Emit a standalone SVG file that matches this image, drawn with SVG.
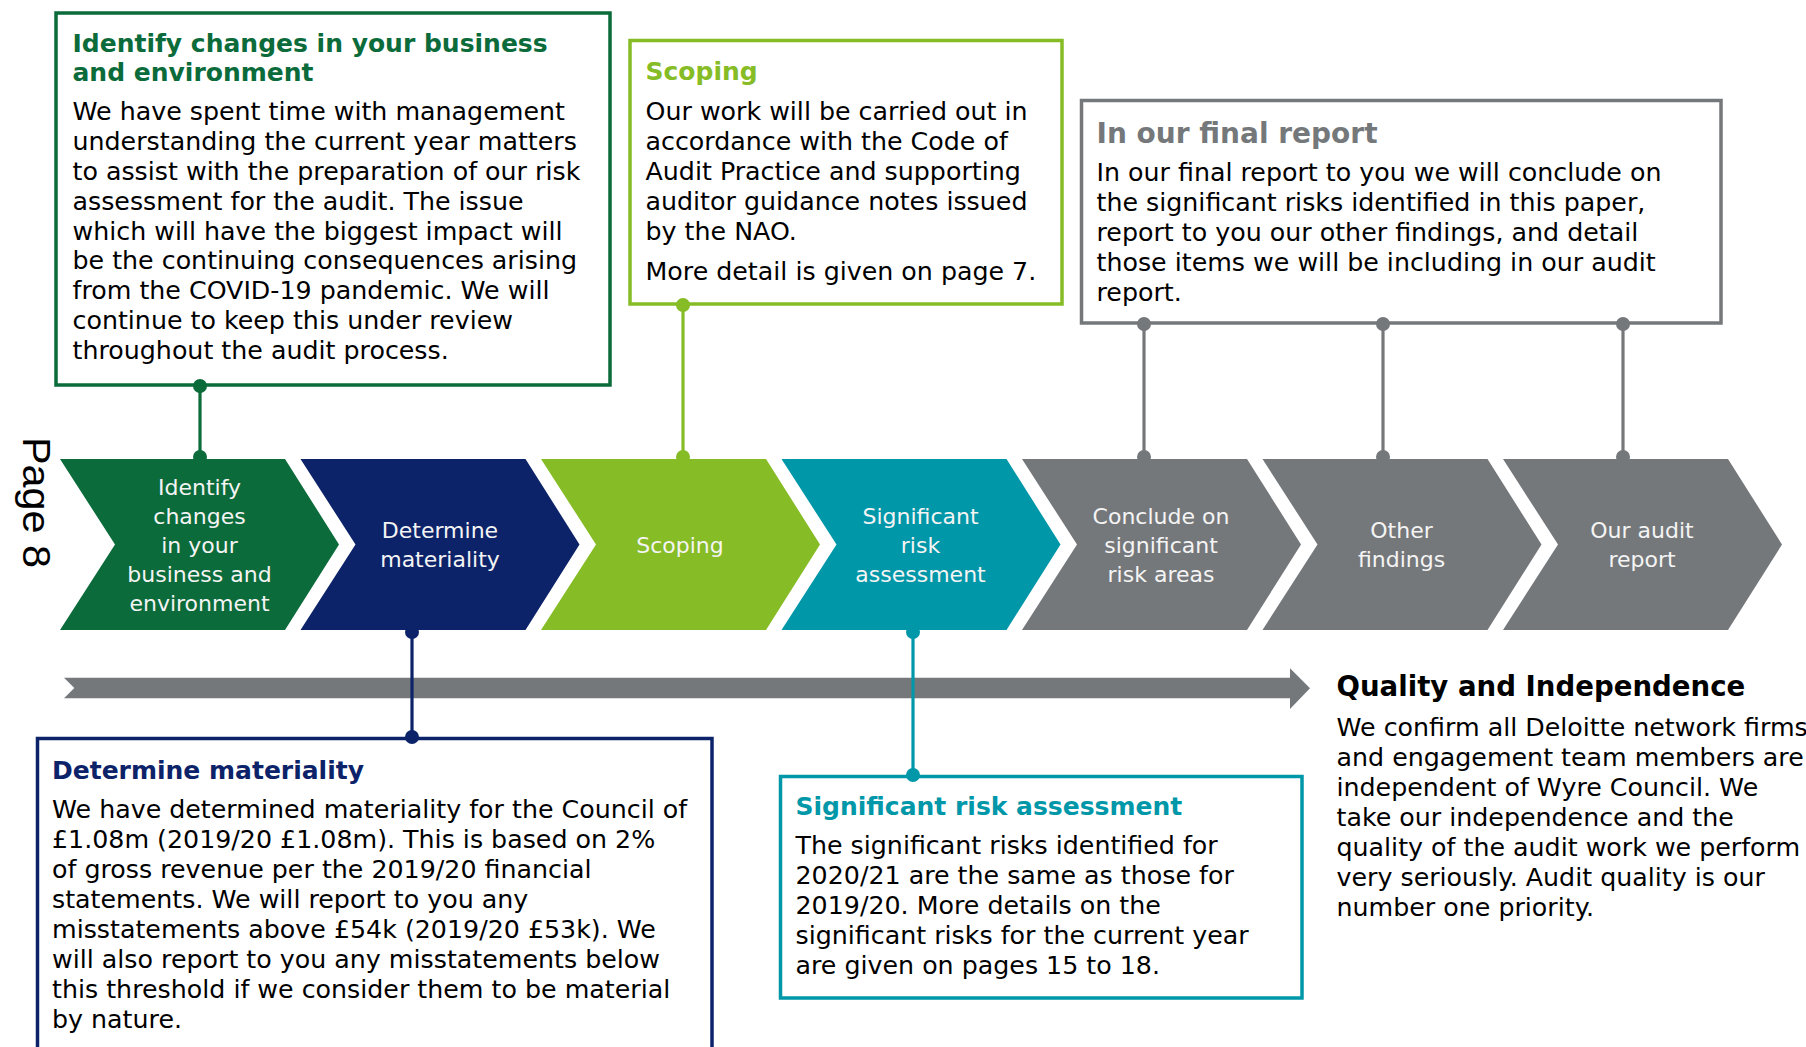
<svg xmlns="http://www.w3.org/2000/svg" width="1806" height="1047" viewBox="0 0 1806 1047">
  <style>
    text { font-family: "DejaVu Sans", Verdana, sans-serif; }
    .body { font-size: 25.3px; fill: #000000; }
    .title { font-size: 25px; font-weight: bold; }
    .step { font-size: 22px; fill: #F4F4F4; text-anchor: middle; }
    .box { fill: #FFFFFF; stroke-width: 3.5; }
    .link { stroke-width: 3.2; fill: none; }
    .c-green { stroke: #0B6B3A; }
    .c-navy { stroke: #0C2369; }
    .c-lime { stroke: #86BC25; }
    .c-teal { stroke: #0097A9; }
    .c-grey { stroke: #75787B; }
    .f-green { fill: #0B6B3A; }
    .f-navy { fill: #0C2369; }
    .f-lime { fill: #86BC25; }
    .f-teal { fill: #0097A9; }
    .f-grey { fill: #75787B; }
  </style>
  <defs>
    <polygon id="chev" points="0,459 225,459 279,544.5 225,630 0,630 55,544.5"/>
  </defs>

  <rect width="1806" height="1047" fill="#FFFFFF"/>

  <!-- page number, rotated -->
  <text transform="translate(23,437) rotate(90)" font-size="38" textLength="131" lengthAdjust="spacingAndGlyphs" style="font-family:'Liberation Sans', Arial, sans-serif">Page 8</text>

  <!-- timeline arrow -->
  <polygon class="f-grey" points="64,677.7 1290,677.7 1290,668.3 1310,688.3 1290,709 1290,698.3 64,698.3 74.3,688"/>

  <!-- process steps -->
  <g id="step-identify">
    <use href="#chev" x="60" class="f-green"/>
    <text class="step" x="199.5" y="494.5">Identify</text>
    <text class="step" x="199.5" y="523.5">changes</text>
    <text class="step" x="199.5" y="552.5">in your</text>
    <text class="step" x="199.5" y="581.5">business and</text>
    <text class="step" x="199.5" y="610.5">environment</text>
  </g>
  <g id="step-materiality">
    <use href="#chev" x="300.5" class="f-navy"/>
    <text class="step" x="440" y="538">Determine</text>
    <text class="step" x="440" y="567">materiality</text>
  </g>
  <g id="step-scoping">
    <use href="#chev" x="541" class="f-lime"/>
    <text class="step" x="680" y="552.5">Scoping</text>
  </g>
  <g id="step-risk">
    <use href="#chev" x="781.5" class="f-teal"/>
    <text class="step" x="920.5" y="523.5">Significant</text>
    <text class="step" x="920.5" y="552.5">risk</text>
    <text class="step" x="920.5" y="581.5">assessment</text>
  </g>
  <g id="step-conclude">
    <use href="#chev" x="1022" class="f-grey"/>
    <text class="step" x="1161" y="523.5">Conclude on</text>
    <text class="step" x="1161" y="552.5">significant</text>
    <text class="step" x="1161" y="581.5">risk areas</text>
  </g>
  <g id="step-findings">
    <use href="#chev" x="1262.5" class="f-grey"/>
    <text class="step" x="1401.5" y="538">Other</text>
    <text class="step" x="1401.5" y="567">findings</text>
  </g>
  <g id="step-report">
    <use href="#chev" x="1503" class="f-grey"/>
    <text class="step" x="1642" y="538">Our audit</text>
    <text class="step" x="1642" y="567">report</text>
  </g>

  <!-- description panels -->
  <g id="panel-identify">
    <rect class="box c-green" x="56" y="13" width="554" height="372"/>
    <text class="title f-green" x="72.5" y="52">Identify changes in your business</text>
    <text class="title f-green" x="72.5" y="81">and environment</text>
    <text class="body" x="72.5" y="119.5">We have spent time with management</text>
    <text class="body" x="72.5" y="149.5">understanding the current year matters</text>
    <text class="body" x="72.5" y="179.5">to assist with the preparation of our risk</text>
    <text class="body" x="72.5" y="209.5">assessment for the audit. The issue</text>
    <text class="body" x="72.5" y="239.5">which will have the biggest impact will</text>
    <text class="body" x="72.5" y="269">be the continuing consequences arising</text>
    <text class="body" x="72.5" y="299">from the COVID-19 pandemic. We will</text>
    <text class="body" x="72.5" y="329">continue to keep this under review</text>
    <text class="body" x="72.5" y="359">throughout the audit process.</text>
  </g>

  <g id="panel-scoping">
    <rect class="box c-lime" x="630" y="40.5" width="432" height="263.5"/>
    <text class="title f-lime" x="645.5" y="80">Scoping</text>
    <text class="body" x="645.5" y="119.8">Our work will be carried out in</text>
    <text class="body" x="645.5" y="149.8">accordance with the Code of</text>
    <text class="body" x="645.5" y="179.8">Audit Practice and supporting</text>
    <text class="body" x="645.5" y="209.8">auditor guidance notes issued</text>
    <text class="body" x="645.5" y="239.8">by the NAO.</text>
    <text class="body" x="645.5" y="279.5">More detail is given on page 7.</text>
  </g>

  <g id="panel-final-report">
    <rect class="box c-grey" x="1081.5" y="100.5" width="639.5" height="222.5"/>
    <text class="title f-grey" x="1096.5" y="142.5" style="font-size:28px">In our final report</text>
    <text class="body" x="1096.5" y="181">In our final report to you we will conclude on</text>
    <text class="body" x="1096.5" y="211">the significant risks identified in this paper,</text>
    <text class="body" x="1096.5" y="241">report to you our other findings, and detail</text>
    <text class="body" x="1096.5" y="271">those items we will be including in our audit</text>
    <text class="body" x="1096.5" y="300.5">report.</text>
  </g>

  <g id="panel-materiality">
    <rect class="box c-navy" x="37.5" y="738.5" width="674.5" height="400"/>
    <text class="title f-navy" x="52" y="778.5">Determine materiality</text>
    <text class="body" x="52" y="817.5">We have determined materiality for the Council of</text>
    <text class="body" x="52" y="847.5">£1.08m (2019/20 £1.08m). This is based on 2%</text>
    <text class="body" x="52" y="877.5">of gross revenue per the 2019/20 financial</text>
    <text class="body" x="52" y="907.5">statements. We will report to you any</text>
    <text class="body" x="52" y="937.5">misstatements above £54k (2019/20 £53k). We</text>
    <text class="body" x="52" y="967.5">will also report to you any misstatements below</text>
    <text class="body" x="52" y="997.5">this threshold if we consider them to be material</text>
    <text class="body" x="52" y="1027.5">by nature.</text>
  </g>

  <g id="panel-risk">
    <rect class="box c-teal" x="780.5" y="776.5" width="521.5" height="221.5"/>
    <text class="title f-teal" x="795.5" y="814.5">Significant risk assessment</text>
    <text class="body" x="795.5" y="854">The significant risks identified for</text>
    <text class="body" x="795.5" y="884">2020/21 are the same as those for</text>
    <text class="body" x="795.5" y="914">2019/20. More details on the</text>
    <text class="body" x="795.5" y="944">significant risks for the current year</text>
    <text class="body" x="795.5" y="974">are given on pages 15 to 18.</text>
  </g>

  <g id="panel-quality">
    <text class="title" x="1336.5" y="695.5" style="font-size:27.6px" fill="#000000">Quality and Independence</text>
    <text class="body" x="1336.5" y="735.5">We confirm all Deloitte network firms</text>
    <text class="body" x="1336.5" y="765.5">and engagement team members are</text>
    <text class="body" x="1336.5" y="795.5">independent of Wyre Council. We</text>
    <text class="body" x="1336.5" y="825.5">take our independence and the</text>
    <text class="body" x="1336.5" y="855.5">quality of the audit work we perform</text>
    <text class="body" x="1336.5" y="885.5">very seriously. Audit quality is our</text>
    <text class="body" x="1336.5" y="915.5">number one priority.</text>
  </g>

  <!-- connectors between steps and panels -->
  <g id="connectors">
    <line class="link c-green" x1="200" y1="387" x2="200" y2="457"/>
    <circle class="f-green" cx="200" cy="386" r="7"/>
    <circle class="f-green" cx="200" cy="457" r="7"/>

    <line class="link c-lime" x1="683" y1="305" x2="683" y2="457"/>
    <circle class="f-lime" cx="683" cy="305" r="7"/>
    <circle class="f-lime" cx="683" cy="457" r="7"/>

    <line class="link c-grey" x1="1144" y1="324" x2="1144" y2="457"/>
    <circle class="f-grey" cx="1144" cy="324" r="7"/>
    <circle class="f-grey" cx="1144" cy="457" r="7"/>

    <line class="link c-grey" x1="1383" y1="324" x2="1383" y2="457"/>
    <circle class="f-grey" cx="1383" cy="324" r="7"/>
    <circle class="f-grey" cx="1383" cy="457" r="7"/>

    <line class="link c-grey" x1="1623" y1="324" x2="1623" y2="457"/>
    <circle class="f-grey" cx="1623" cy="324" r="7"/>
    <circle class="f-grey" cx="1623" cy="457" r="7"/>

    <line class="link c-navy" x1="412" y1="632" x2="412" y2="737"/>
    <circle class="f-navy" cx="412" cy="632" r="7"/>
    <circle class="f-navy" cx="412" cy="737" r="7"/>

    <line class="link c-teal" x1="913" y1="632" x2="913" y2="775"/>
    <circle class="f-teal" cx="913" cy="632" r="7"/>
    <circle class="f-teal" cx="913" cy="775" r="7"/>
  </g>
</svg>
